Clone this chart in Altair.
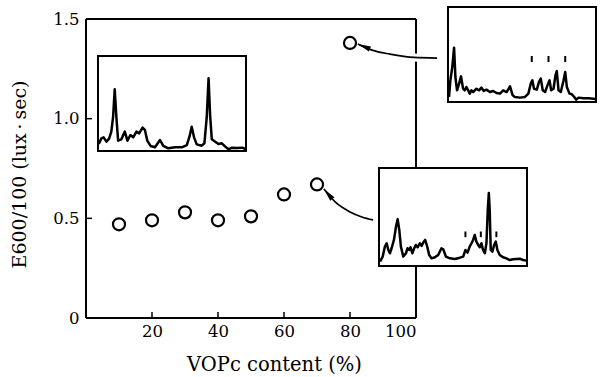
import altair as alt
import pandas as pd

# ---------------- main data ----------------
vopc = [10, 20, 30, 40, 50, 60, 70, 80]
e600 = [0.47, 0.49, 0.53, 0.49, 0.51, 0.62, 0.67, 1.38]

x_tick_vals = [20, 40, 60, 80, 100]
y_tick_vals = [0, 0.5, 1.0, 1.5]

# annotation arrows (data units of the main chart)
arrow1_x = [82.4, 83.6, 86.7, 92.1, 99.4, 106.4]
arrow1_y = [1.375, 1.365, 1.344, 1.324, 1.307, 1.304]
arrow2_x = [72.1, 75.5, 80.0, 83.6, 87.0]
arrow2_y = [0.647, 0.582, 0.532, 0.507, 0.492]
head_x = [82.4, 72.1]
head_y = [1.375, 0.647]
head_angle = [23, 50]

# ---------------- inset spectra (normalised 0-100) ----------------
s1_x = [0.5, 2.3, 3.8, 5.7, 7.5, 9.0, 10.2, 11.3, 12.4, 13.6, 15.8, 18.1, 19.9, 21.9, 23.8, 26.0,
        27.8, 30.1, 31.7, 33.3, 35.5, 38.5, 41.9, 44.1, 47.5, 52.0, 56.6, 60.0, 61.8, 63.3, 64.9,
        66.7, 70.1, 71.9, 73.5, 74.7, 75.8, 76.9, 79.2, 81.4, 83.7, 86.0, 88.2, 90.5, 93.9, 97.3, 99.8]
s1_y = [7.4, 13.3, 14.4, 9.8, 13.0, 20.4, 36.0, 64.9, 36.0, 10.9, 12.3, 20.4, 10.9, 16.8, 14.4, 20.4,
        18.6, 24.6, 22.1, 10.9, 5.3, 3.9, 11.6, 5.3, 2.8, 3.9, 3.9, 6.3, 15.1, 25.6, 14.4,
        7.0, 5.6, 8.1, 36.1, 76.5, 36.1, 12.3, 9.8, 7.4, 8.1, 4.6, 1.8, 3.5, 3.2, 3.5, 2.1]

s2_x = [0.7, 1.6, 2.9, 4.1, 5.0, 6.1, 7.5, 8.8, 10.2, 11.3, 12.4, 13.6, 14.7, 15.8, 17.0, 19.2,
        21.0, 22.6, 24.2, 26.0, 28.3, 30.5, 32.8, 35.1, 37.3, 39.6, 41.9, 43.7, 45.2, 48.6, 52.0,
        54.3, 55.9, 57.0, 58.1, 60.0, 61.5, 62.7, 64.0, 65.6, 67.2, 68.6, 69.7, 71.3, 72.6, 73.5,
        74.7, 76.2, 78.1, 79.2, 80.3, 82.1, 83.7, 85.3, 86.7, 88.2, 91.6, 95.0, 99.8]
s2_y = [5.3, 22.8, 36.8, 57.2, 26.3, 12.3, 19.3, 27.0, 14.0, 12.3, 15.8, 12.3, 8.8, 12.3, 10.5, 14.0,
        12.3, 15.1, 11.6, 13.0, 10.5, 11.6, 9.5, 8.8, 12.3, 10.5, 16.5, 7.0, 5.3, 4.6, 5.3,
        8.8, 19.3, 22.8, 14.0, 13.0, 21.1, 24.6, 12.3, 10.5, 17.5, 22.8, 12.3, 14.0, 28.1, 32.6,
        12.3, 10.5, 22.8, 31.6, 15.8, 8.8, 8.1, 5.3, 2.5, 4.6, 3.9, 3.9, 3.2]
s2_mark_x = [56.6, 67.9, 79.2]
s2_mark_lo = [42.1, 42.1, 42.1]
s2_mark_hi = [48.4, 48.4, 48.4]

s3_x = [0.7, 2.5, 4.0, 5.2, 6.3, 7.4, 8.5, 10.1, 11.5, 12.6, 13.7, 14.8, 16.4, 18.2, 19.3, 20.4,
        21.3, 22.5, 23.8, 24.9, 26.1, 27.6, 28.8, 29.9, 31.2, 32.6, 33.9, 35.5, 37.8, 40.0, 42.2,
        43.4, 45.2, 47.9, 51.2, 54.6, 56.9, 58.4, 59.8, 61.3, 62.5, 63.6, 64.7, 65.8, 67.0, 68.1,
        69.2, 70.3, 71.5, 72.6, 73.5, 74.2, 74.8, 75.5, 76.6, 77.8, 78.9, 80.0, 81.6, 83.8, 86.1,
        88.3, 90.6, 92.8, 95.1, 97.3, 99.6]
s3_y = [4.4, 9.6, 19.8, 23.2, 16.4, 13.0, 18.1, 26.6, 40.3, 47.8, 36.9, 19.8, 9.6, 13.0, 18.1, 16.4,
        19.1, 13.0, 18.1, 21.5, 19.1, 23.2, 20.5, 23.9, 26.6, 19.8, 11.3, 7.8, 8.9, 11.3, 18.1,
        17.1, 9.6, 7.8, 7.2, 8.5, 9.6, 16.4, 13.7, 19.8, 23.2, 26.6, 31.7, 24.9, 21.5, 19.1,
        23.2, 16.4, 13.0, 23.2, 57.3, 74.4, 57.3, 16.4, 14.7, 21.5, 24.9, 16.4, 11.3, 8.9, 7.8,
        6.1, 6.8, 7.2, 7.5, 6.1, 5.5]
s3_mark_x = [58.4, 68.8, 79.3]
s3_mark_lo = [29.4, 29.4, 29.4]
s3_mark_hi = [35.2, 35.2, 35.2]

# ---------------- layout (pixels, relative to plot area) ----------------
W, H = 330, 299
FONT = "DejaVu Serif"
INSET1 = dict(x0=12, x1=160, y0=37, y1=132)
INSET2 = dict(x0=362, x1=510, y0=-12, y1=83)
INSET3 = dict(x0=293, x1=441, y0=149, y1=247)

xscale = alt.Scale(domain=[0, 100])
yscale = alt.Scale(domain=[0, 1.5])
xaxis = alt.Axis(values=x_tick_vals, title="VOPc content (%)", domain=False, ticks=False,
                 grid=False, labelPadding=5, titleX=188, titleY=52, titleAlign="center",
                 titleBaseline="alphabetic", titleFontSize=19.5)
yaxis = alt.Axis(values=y_tick_vals, title="E600/100  (lux\u2009·\u2009sec)", domain=False,
                 ticks=False, grid=False, labelPadding=7, titleX=-67, titleY=155,
                 titleAlign="center", titleBaseline="middle", titleAngle=270,
                 titleFontSize=19,
                 labelExpr="datum.value == 0 ? '0' : format(datum.value, '.1f')")
X = alt.X("x:Q", scale=xscale, axis=xaxis)
Y = alt.Y("y:Q", scale=yscale, axis=yaxis)

one = pd.DataFrame({"k": [0]})
pts = pd.DataFrame({"x": vopc, "y": e600})
xt = pd.DataFrame({"x": x_tick_vals[:-1]})
yt = pd.DataFrame({"y": y_tick_vals[1:-1]})
arrows = pd.DataFrame({
    "x": arrow1_x + arrow2_x,
    "y": arrow1_y + arrow2_y,
    "a": [1] * len(arrow1_x) + [2] * len(arrow2_x),
})
heads = pd.DataFrame({"x": head_x, "y": head_y, "ang": head_angle})

frame = alt.layer(
    alt.Chart(one).mark_rule(color="black", strokeWidth=2).encode(
        x=alt.value(0), y=alt.value(0), y2=alt.value(H)),
    alt.Chart(one).mark_rule(color="black", strokeWidth=2).encode(
        x=alt.value(W), y=alt.value(0), y2=alt.value(H)),
    alt.Chart(one).mark_rule(color="black", strokeWidth=2).encode(
        x=alt.value(0), x2=alt.value(W), y=alt.value(0)),
    alt.Chart(one).mark_rule(color="black", strokeWidth=2).encode(
        x=alt.value(0), x2=alt.value(W), y=alt.value(H)),
)

main = alt.layer(
    frame,
    alt.Chart(xt).mark_rule(color="black", strokeWidth=1.5).encode(
        x=X, y=alt.value(H), y2=alt.value(H - 6)),
    alt.Chart(yt).mark_rule(color="black", strokeWidth=1.5).encode(
        y=Y, x=alt.value(0), x2=alt.value(6)),
    alt.Chart(pts).mark_point(shape="circle", size=145, strokeWidth=2.2, color="black",
                              opacity=1).encode(x=X, y=Y),
    alt.Chart(arrows).mark_line(color="white", strokeWidth=8, interpolate="monotone").encode(
        x=X, y=Y, detail="a:N"),
    alt.Chart(arrows).mark_line(color="black", strokeWidth=1.7, interpolate="monotone").encode(
        x=X, y=Y, detail="a:N"),
    alt.Chart(heads).mark_point(shape="M0,0L2,-0.42L2,0.42Z", filled=True, color="black",
                                opacity=1, size=170, strokeWidth=0).encode(
        x=X, y=Y, angle=alt.Angle("ang:Q", scale=None)),
)


def inset(xs, ys, box, mx=None, mlo=None, mhi=None):
    sx = alt.Scale(domain=[0, 100], range=[box["x0"], box["x1"]])
    sy = alt.Scale(domain=[0, 100], range=[box["y1"], box["y0"]])
    df = pd.DataFrame({"t": xs, "i": ys})
    layers = [
        alt.Chart(one).mark_rect(fill="white", stroke="black", strokeWidth=2).encode(
            x=alt.value(box["x0"]), x2=alt.value(box["x1"]),
            y=alt.value(box["y0"]), y2=alt.value(box["y1"])),
        alt.Chart(df).mark_line(color="black", strokeWidth=2.5, strokeJoin="round").encode(
            x=alt.X("t:Q", scale=sx, axis=None), y=alt.Y("i:Q", scale=sy, axis=None)),
    ]
    if mx is not None:
        md = pd.DataFrame({"t": mx, "i": mlo, "i2": mhi})
        layers.append(alt.Chart(md).mark_rule(color="black", strokeWidth=2).encode(
            x=alt.X("t:Q", scale=sx, axis=None), y=alt.Y("i:Q", scale=sy, axis=None),
            y2="i2:Q"))
    return alt.layer(*layers)


chart = alt.layer(
    main,
    inset(s1_x, s1_y, INSET1),
    inset(s2_x, s2_y, INSET2, s2_mark_x, s2_mark_lo, s2_mark_hi),
    inset(s3_x, s3_y, INSET3, s3_mark_x, s3_mark_lo, s3_mark_hi),
).resolve_scale(x="independent", y="independent").properties(
    width=W, height=H,
    autosize=alt.AutoSizeParams(type="none"),
    padding={"left": 86, "top": 19, "right": 184, "bottom": 59},
    background="white",
).configure_view(stroke="transparent").configure_axis(
    labelFont=FONT, labelFontSize=16.5, labelColor="black",
    titleFont=FONT, titleFontWeight="normal", titleColor="black",
)

chart.save("out.html", embed_options={"renderer": "svg", "actions": False})
